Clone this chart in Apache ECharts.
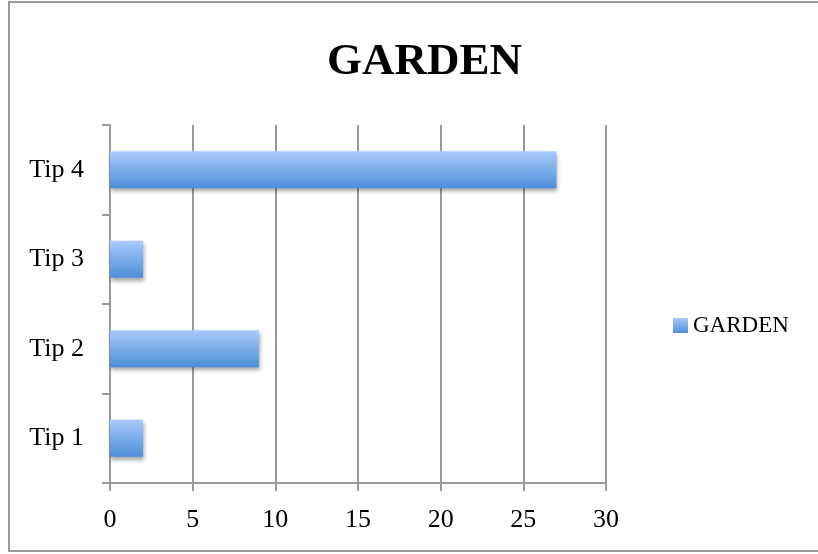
<!DOCTYPE html>
<html>
<head>
<meta charset="utf-8">
<style>
  html, body { margin: 0; padding: 0; background: #ffffff; }
  #chart { width: 818px; height: 554px; }
</style>
<script src="https://cdn.jsdelivr.net/npm/echarts@6/dist/echarts.min.js"></script>
</head>
<body>
<div id="chart"></div>
<script>
// Categories along the vertical axis (bottom to top)
const categories = ['Tip 1', 'Tip 2', 'Tip 3', 'Tip 4'];
// Counts per tip for the GARDEN series
const gardenValues = [2, 9, 2, 27];
const seriesName = 'GARDEN';
const chartTitle = 'GARDEN';

const serif = '"Liberation Serif", "DejaVu Serif", serif';
const gridGrey = '#9a9a9a';

const barFill = new echarts.graphic.LinearGradient(0, 0, 0, 1, [
  { offset: 0, color: '#a9cbfa' },
  { offset: 1, color: '#4d8ed9' }
]);

const chart = echarts.init(document.getElementById('chart'), null, { renderer: 'canvas' });

chart.setOption({
  animation: false,
  backgroundColor: '#ffffff',
  title: {
    text: chartTitle,
    left: 322,
    top: 35,
    textStyle: { fontFamily: serif, fontWeight: 'bold', fontSize: 45, color: '#000000' }
  },
  legend: {
    data: [seriesName],
    left: 668,
    top: 309,
    icon: 'rect',
    itemWidth: 15,
    itemHeight: 15,
    textStyle: { fontFamily: serif, fontSize: 23, color: '#000000', padding: [2, 0, 0, 0] }
  },
  grid: { left: 110, right: 212, top: 125, bottom: 71, containLabel: false },
  xAxis: {
    type: 'value',
    min: 0,
    max: 30,
    interval: 5,
    axisLine: { show: true, lineStyle: { color: gridGrey, width: 2 } },
    axisTick: { show: true, length: 8, lineStyle: { color: gridGrey, width: 2 } },
    splitLine: { show: true, lineStyle: { color: gridGrey, width: 2 } },
    axisLabel: { fontFamily: serif, fontSize: 26, color: '#000000', margin: 24 }
  },
  yAxis: {
    type: 'category',
    data: categories,
    axisLine: { show: true, lineStyle: { color: gridGrey, width: 2 } },
    axisTick: { show: true, length: 8, lineStyle: { color: gridGrey, width: 2 } },
    splitLine: { show: false },
    axisLabel: { fontFamily: serif, fontSize: 26, color: '#000000', margin: 26 }
  },
  series: [{
    name: seriesName,
    type: 'bar',
    data: gardenValues,
    barWidth: 37,
    itemStyle: {
      color: barFill,
      shadowColor: 'rgba(0,0,0,0.35)',
      shadowBlur: 4,
      shadowOffsetX: 1,
      shadowOffsetY: 3
    }
  }],
  graphic: [{
    type: 'rect',
    shape: { x: 9, y: 2, width: 840, height: 549 },
    style: { fill: 'none', stroke: '#999999', lineWidth: 2 },
    silent: true,
    z: -1
  }]
});
</script>
</body>
</html>
